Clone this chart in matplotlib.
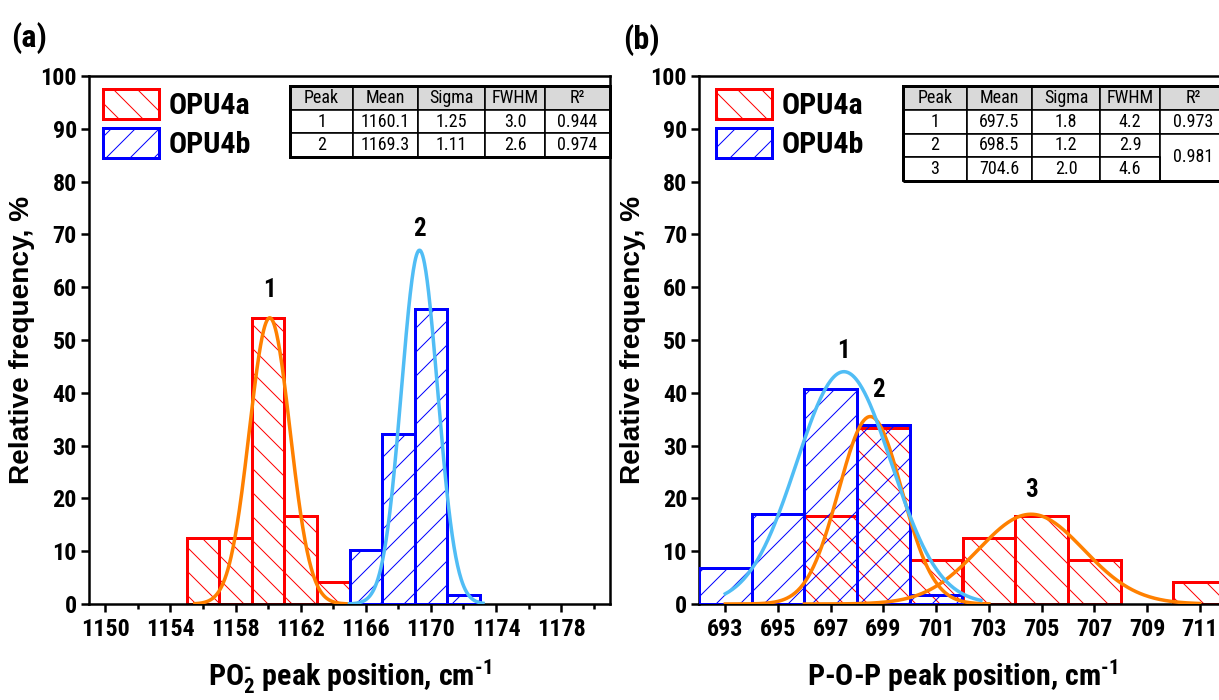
import numpy as np
import matplotlib
matplotlib.use('Agg')
import matplotlib.pyplot as plt
from matplotlib.patches import Rectangle
from matplotlib.ticker import MultipleLocator

# condensed bold for horizontal text (closest to Arial Narrow), regular bold for the y title
NARROW = ['Roboto Condensed', 'Liberation Sans', 'DejaVu Sans']
WIDE = ['Liberation Sans', 'DejaVu Sans']
plt.rcParams['font.family'] = NARROW
plt.rcParams['font.weight'] = 'bold'
plt.rcParams['axes.labelweight'] = 'bold'
plt.rcParams['hatch.linewidth'] = 1.0
plt.rcParams['mathtext.fontset'] = 'custom'
plt.rcParams['mathtext.rm'] = 'Roboto Condensed:bold'
plt.rcParams['mathtext.it'] = 'Roboto Condensed:bold'
plt.rcParams['mathtext.bf'] = 'Roboto Condensed:bold'
plt.rcParams['mathtext.default'] = 'rm'

# ---- panel (a): PO2- band ----
red_a_left = [1155, 1157, 1159, 1161, 1163]
red_a = [12.5, 12.5, 54.2, 16.7, 4.2]
blue_a_left = [1165, 1167, 1169, 1171]
blue_a = [10.2, 32.2, 55.9, 1.7]
fit_a_mean = [1160.1, 1169.3]
fit_a_sigma = [1.25, 1.11]
fit_a_amp = [54.2, 67.0]
fit_a_range = [(1155.5, 1165.0), (1165.0, 1173.2)]
table_a = [['1', '1160.1', '1.25', '3.0', '0.944'],
           ['2', '1169.3', '1.11', '2.6', '0.974']]

# ---- panel (b): P-O-P band ----
blue_b_left = [692, 694, 696, 698, 700]
blue_b = [6.8, 17.0, 40.7, 33.9, 1.7]
red_b_left = [696, 698, 700, 702, 704, 706, 710]
red_b = [16.7, 33.3, 8.3, 12.5, 16.7, 8.3, 4.2]
fit_b_mean = [697.5, 698.5, 704.6]
fit_b_sigma = [1.8, 1.2, 2.0]
fit_b_amp = [44.0, 35.5, 17.0]
fit_b_range = [(693.0, 702.7), (693.0, 703.0), (696.0, 711.0)]
table_b = [['1', '697.5', '1.8', '4.2', '0.973'],
           ['2', '698.5', '1.2', '2.9', ''],
           ['3', '704.6', '2.0', '4.6', '']]
r2_b_shared = '0.981'

col_labels = ['Peak', 'Mean', 'Sigma', 'FWHM', 'R²']
col_w = [63, 65, 67, 60, 65]

RED = '#FF0000'
BLUE = '#0000FF'
ORANGE = '#FF8000'
LBLUE = '#50BDF5'

W, H = 1219, 700
fig = plt.figure(figsize=(W / 72, H / 72), dpi=72)
ax_a = fig.add_axes([89 / W, 96 / H, 521 / W, 528 / H])
ax_b = fig.add_axes([699 / W, 96 / H, 527 / W, 528 / H])


def gauss(x, m, s, a):
    return a * np.exp(-0.5 * ((x - m) / s) ** 2)


def style_axes(ax):
    for sp in ax.spines.values():
        sp.set_linewidth(2.5)
    ax.set_ylim(0, 100)
    ax.set_yticks(range(0, 101, 10))
    ax.tick_params(which='major', direction='out', length=8, width=2.5,
                   labelsize=24)
    ax.tick_params(axis='x', which='major', pad=6)
    ax.tick_params(axis='y', which='major', pad=4)
    ax.tick_params(which='minor', direction='out', length=4.5, width=2.5)
    ax.tick_params(axis='y', which='minor', left=False)
    ax.set_ylabel('Relative frequency, %', fontsize=28, family=WIDE,
                  fontweight='bold', labelpad=5)


def draw_bars(ax, red_left, red_h, blue_left, blue_h):
    rb = ax.bar(red_left, red_h, width=2, align='edge', facecolor='none',
                edgecolor=RED, hatch='\\', linewidth=3, zorder=2)
    bb = ax.bar(blue_left, blue_h, width=2, align='edge', facecolor='none',
                edgecolor=BLUE, hatch='/', linewidth=3, zorder=3)
    return rb, bb


def draw_table(ax, rows, x0, y0, h):
    tb = ax.table(cellText=rows, colLabels=col_labels, colWidths=col_w,
                  cellLoc='center', bbox=[x0, y0, 1 - x0, h])
    tb.auto_set_font_size(False)
    tb.set_fontsize(18)
    for (r, c), cell in tb.get_celld().items():
        cell.set_linewidth(1.6)
        cell.set_edgecolor('black')
        cell.get_text().set_fontweight('normal')
        cell.get_text().set_family(NARROW)
        if r == 0:
            cell.set_facecolor('#D9D9D9')
    tb.set_zorder(6)
    ax.add_patch(Rectangle((x0, y0), 1 - x0, h, transform=ax.transAxes,
                           fill=False, lw=3, ec='black', zorder=7,
                           clip_on=False))
    return tb


# ---------------- panel (a) ----------------
rb, bb = draw_bars(ax_a, red_a_left, red_a, blue_a_left, blue_a)
for i, c in enumerate([ORANGE, LBLUE]):
    xs = np.linspace(fit_a_range[i][0], fit_a_range[i][1], 300)
    ax_a.plot(xs, gauss(xs, fit_a_mean[i], fit_a_sigma[i], fit_a_amp[i]),
              color=c, lw=3.5, zorder=4)
ax_a.set_xlim(1149, 1181)
ax_a.set_xticks(range(1150, 1179, 4))
ax_a.xaxis.set_minor_locator(MultipleLocator(2))
style_axes(ax_a)
ax_a.set_xlabel(r'PO$_2^{\text{-}}$ peak position, cm$^{\text{-1}}$',
                fontsize=30, labelpad=16)
ax_a.text(1160.1, 59.5, '1', ha='center', va='center', fontsize=25)
ax_a.text(1169.3, 71.0, '2', ha='center', va='center', fontsize=25)
ax_a.legend([rb, bb], ['OPU4a', 'OPU4b'], loc='upper left',
            bbox_to_anchor=(0.027, 0.975), frameon=False, fontsize=30,
            handlelength=1.87, handleheight=1.15, handletextpad=0.3,
            labelspacing=0.25, borderpad=0, borderaxespad=0)
draw_table(ax_a, table_a, 0.386, 0.8466, 0.1344)

# ---------------- panel (b) ----------------
rb2, bb2 = draw_bars(ax_b, red_b_left, red_b, blue_b_left, blue_b)
for i, c in enumerate([ORANGE, ORANGE, LBLUE]):
    j = [1, 2, 0][i]
    xs = np.linspace(fit_b_range[j][0], fit_b_range[j][1], 300)
    ax_b.plot(xs, gauss(xs, fit_b_mean[j], fit_b_sigma[j], fit_b_amp[j]),
              color=c, lw=3.5, zorder=4)
ax_b.set_xlim(692, 712)
ax_b.set_xticks(range(693, 712, 2))
style_axes(ax_b)
ax_b.set_xlabel(r'P-O-P peak position, cm$^{\text{-1}}$', fontsize=30,
                labelpad=16)
ax_b.text(697.5, 48.0, '1', ha='center', va='center', fontsize=25)
ax_b.text(698.8, 40.5, '2', ha='center', va='center', fontsize=25)
ax_b.text(704.6, 21.5, '3', ha='center', va='center', fontsize=25)
ax_b.legend([rb2, bb2], ['OPU4a', 'OPU4b'], loc='upper left',
            bbox_to_anchor=(0.033, 0.975), frameon=False, fontsize=30,
            handlelength=1.87, handleheight=1.15, handletextpad=0.3,
            labelspacing=0.25, borderpad=0, borderaxespad=0)
tb = draw_table(ax_b, table_b, 0.387, 0.801, 0.180)
# R² of peaks 2 and 3 shares one merged cell
for r in (2, 3):
    tb[r, 4].visible_edges = 'TLR' if r == 2 else 'BLR'
xc = 0.387 + (1 - 0.387) * (sum(col_w[:4]) + col_w[4] / 2) / sum(col_w)
ax_b.text(xc, 0.801 + 0.180 / 4, r2_b_shared, transform=ax_b.transAxes,
          ha='center', va='center', fontsize=18, fontweight='normal',
          zorder=8)

fig.text(29 / W, 1 - 38 / H, '(a)', fontsize=32, ha='center', va='center')
fig.text(641 / W, 1 - 40 / H, '(b)', fontsize=32, ha='center', va='center')

fig.savefig('out.png', dpi=72)
